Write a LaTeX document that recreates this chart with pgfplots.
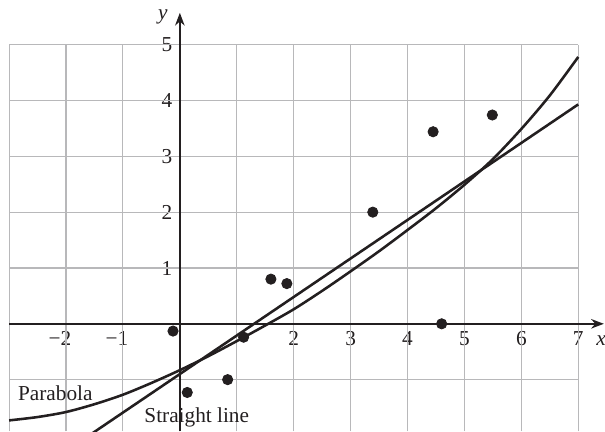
\documentclass[border=0pt]{standalone}
\usepackage{fontspec}
\setmainfont{Liberation Serif}
\usepackage{pgfplots}
\pgfplotsset{compat=1.18}
\usetikzlibrary{arrows.meta}
\definecolor{ink}{HTML}{231F20}
\definecolor{gridc}{HTML}{B8B8BA}
\begin{document}
\begin{tikzpicture}
\begin{axis}[
  x=26.74pt, y=26.23pt,
  xmin=-3.16, xmax=7.47, ymin=-1.927, ymax=5.80,
  axis lines=middle,
  axis line style={draw=none},
  xtick={-2,-1,2,3,4,5,6,7},
  xticklabels={{\llap{−}2},{\llap{−}1},2,3,4,5,6,7},
  ytick={1,2,3,4,5},
  yticklabels={1,2,3,4,5},
  major tick length=0pt,
  tick label style={font=\fontsize{10}{12}\selectfont, text=ink},
  clip=true,
]
\pgfplotsinvokeforeach{-3,...,7}{\draw[gridc, line width=0.5pt] (axis cs:#1,-1.927) -- (axis cs:#1,5);}
\pgfplotsinvokeforeach{-1,...,5}{\draw[gridc, line width=0.5pt] (axis cs:-3,#1) -- (axis cs:7,#1);}
\draw[ink, line width=0.7pt, -{Stealth[length=6pt,width=4.5pt]}] (axis cs:-3,0) -- (axis cs:7.45,0);
\draw[ink, line width=0.7pt, -{Stealth[length=6pt,width=4.5pt]}] (axis cs:0,-1.927) -- (axis cs:0,5.57);
\node[font=\itshape, text=ink] at (axis cs:-0.30,5.49) {y};
\node[font=\itshape, text=ink] at (axis cs:7.40,-0.30) {x};
\node[anchor=base west, inner sep=0pt, text=ink] at (axis cs:-2.85,-1.37) {Parabola};
\node[anchor=base west, inner sep=0pt, text=ink] at (axis cs:-0.63,-1.76) {Straight line};
\addplot[ink, line width=1.2pt] coordinates {(-1.6,-2.004) (7,3.93)};
\addplot[ink, line width=1.2pt, smooth, tension=0.5] coordinates {
 (-3,-1.73) (-2.5,-1.67) (-2,-1.58) (-1.5,-1.44) (-1,-1.27) (-0.5,-1.06)
 (0,-0.83) (0.5,-0.58) (1,-0.31) (1.5,-0.03) (2,0.26) (2.5,0.59) (3,0.94)
 (3.5,1.30) (4,1.68) (4.5,2.07) (5,2.49) (5.5,2.95) (6,3.49) (6.5,4.09) (7,4.78)};
\addplot[only marks, mark=*, mark size=2.4pt, ink] coordinates {(-0.12,-0.13) (0.13,-1.23) (0.84,-1.0) (1.12,-0.24) (1.6,0.8) (1.88,0.72) (3.39,2.0) (4.45,3.44) (4.6,0.0) (5.49,3.74)};
\end{axis}
\end{tikzpicture}
\end{document}
